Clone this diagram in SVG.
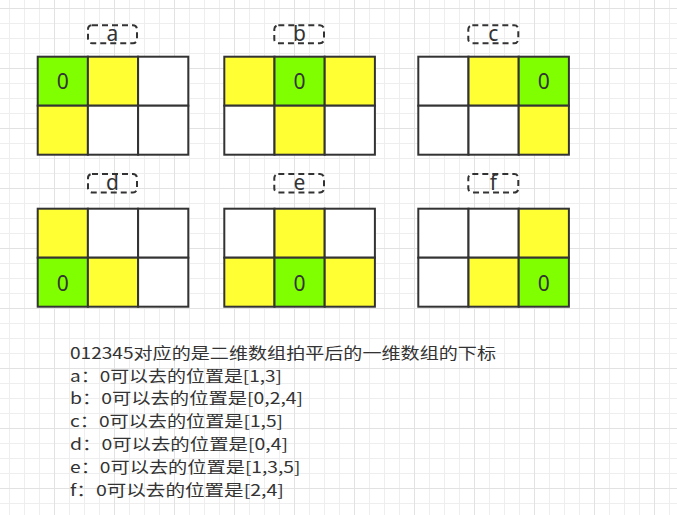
<svg xmlns="http://www.w3.org/2000/svg" width="677" height="515" viewBox="0 0 677 515">
<style>
.cell{stroke:#333333;stroke-width:2}
.w{fill:#ffffff}
.y{fill:#ffff33}
.g{fill:#80ff00}
.lbl{fill:none;stroke:#333333;stroke-width:2;stroke-dasharray:6 4}
.t{font-family:"Noto Sans","Noto Sans CJK SC",sans-serif;fill:#333333;text-anchor:middle}
.big{font-size:21px}
.line{font-family:"Noto Sans CJK SC",sans-serif;font-size:15.6px;fill:#333333}
</style>
<defs>
<pattern id="grid" patternUnits="userSpaceOnUse" x="0" y="0" width="60" height="60">
<rect width="60" height="60" fill="#ffffff"/>
<path d="M9.5 0V60M24.5 0V60M39.5 0V60M0 23.5H60M0 38.5H60M0 53.5H60" stroke="#eeeeee" stroke-width="1" fill="none"/>
<path d="M54.5 0V60M0 8.5H60" stroke="#e2e2e2" stroke-width="1" fill="none"/>
</pattern>
</defs>
<rect width="677" height="515" fill="url(#grid)"/>

<g id="node-a">
<rect class="lbl" x="88" y="25.3" width="49" height="18" rx="4"/>
<text class="t big" x="112.5" y="41">a</text>
<rect class="cell g" x="37.7" y="56.7" width="50.2" height="49"/>
<rect class="cell y" x="87.9" y="56.7" width="50.2" height="49"/>
<rect class="cell w" x="138.1" y="56.7" width="50.2" height="49"/>
<rect class="cell y" x="37.7" y="105.7" width="50.2" height="49"/>
<rect class="cell w" x="87.9" y="105.7" width="50.2" height="49"/>
<rect class="cell w" x="138.1" y="105.7" width="50.2" height="49"/>
<text class="t big" x="62.8" y="88.5">0</text>
</g>

<g id="node-b">
<rect class="lbl" x="274.3" y="25.3" width="49.7" height="18" rx="4"/>
<text class="t big" x="299.5" y="41">b</text>
<rect class="cell y" x="224.3" y="56.7" width="50.2" height="49"/>
<rect class="cell g" x="274.5" y="56.7" width="50.2" height="49"/>
<rect class="cell y" x="324.7" y="56.7" width="50.2" height="49"/>
<rect class="cell w" x="224.3" y="105.7" width="50.2" height="49"/>
<rect class="cell y" x="274.5" y="105.7" width="50.2" height="49"/>
<rect class="cell w" x="324.7" y="105.7" width="50.2" height="49"/>
<text class="t big" x="299.6" y="88.5">0</text>
</g>

<g id="node-c">
<rect class="lbl" x="468.3" y="25.3" width="50" height="18" rx="4"/>
<text class="t big" x="493.3" y="41">c</text>
<rect class="cell w" x="418.3" y="56.7" width="50.2" height="49"/>
<rect class="cell y" x="468.5" y="56.7" width="50.2" height="49"/>
<rect class="cell g" x="518.7" y="56.7" width="50.2" height="49"/>
<rect class="cell w" x="418.3" y="105.7" width="50.2" height="49"/>
<rect class="cell w" x="468.5" y="105.7" width="50.2" height="49"/>
<rect class="cell y" x="518.7" y="105.7" width="50.2" height="49"/>
<text class="t big" x="543.8" y="88.5">0</text>
</g>

<g id="node-d">
<rect class="lbl" x="88" y="174" width="49" height="18.5" rx="4"/>
<text class="t big" x="112.5" y="190">d</text>
<rect class="cell y" x="37.7" y="208.7" width="50.2" height="49"/>
<rect class="cell w" x="87.9" y="208.7" width="50.2" height="49"/>
<rect class="cell w" x="138.1" y="208.7" width="50.2" height="49"/>
<rect class="cell g" x="37.7" y="257.7" width="50.2" height="49"/>
<rect class="cell y" x="87.9" y="257.7" width="50.2" height="49"/>
<rect class="cell w" x="138.1" y="257.7" width="50.2" height="49"/>
<text class="t big" x="62.8" y="290.5">0</text>
</g>

<g id="node-e">
<rect class="lbl" x="274.3" y="174" width="49.7" height="18.5" rx="4"/>
<text class="t big" x="299.5" y="190">e</text>
<rect class="cell w" x="224.3" y="208.7" width="50.2" height="49"/>
<rect class="cell y" x="274.5" y="208.7" width="50.2" height="49"/>
<rect class="cell w" x="324.7" y="208.7" width="50.2" height="49"/>
<rect class="cell y" x="224.3" y="257.7" width="50.2" height="49"/>
<rect class="cell g" x="274.5" y="257.7" width="50.2" height="49"/>
<rect class="cell y" x="324.7" y="257.7" width="50.2" height="49"/>
<text class="t big" x="299.6" y="290.5">0</text>
</g>

<g id="node-f">
<rect class="lbl" x="468.3" y="174" width="50" height="18.5" rx="4"/>
<text class="t big" x="493.3" y="190">f</text>
<rect class="cell w" x="418.3" y="208.7" width="50.2" height="49"/>
<rect class="cell w" x="468.5" y="208.7" width="50.2" height="49"/>
<rect class="cell y" x="518.7" y="208.7" width="50.2" height="49"/>
<rect class="cell w" x="418.3" y="257.7" width="50.2" height="49"/>
<rect class="cell y" x="468.5" y="257.7" width="50.2" height="49"/>
<rect class="cell g" x="518.7" y="257.7" width="50.2" height="49"/>
<text class="t big" x="543.8" y="290.5">0</text>
</g>

<g id="connectors"></g>

<g id="node-notes">
<text class="line" x="70" y="358.8" textLength="426" lengthAdjust="spacingAndGlyphs">012345对应的是二维数组拍平后的一维数组的下标</text>
<text class="line" x="70" y="381.6" textLength="212" lengthAdjust="spacingAndGlyphs">a：0可以去的位置是[1,3]</text>
<text class="line" x="70" y="404.4" textLength="233" lengthAdjust="spacingAndGlyphs">b：0可以去的位置是[0,2,4]</text>
<text class="line" x="70" y="427.2" textLength="213" lengthAdjust="spacingAndGlyphs">c：0可以去的位置是[1,5]</text>
<text class="line" x="70" y="450" textLength="218" lengthAdjust="spacingAndGlyphs">d：0可以去的位置是[0,4]</text>
<text class="line" x="70" y="472.8" textLength="230.5" lengthAdjust="spacingAndGlyphs">e：0可以去的位置是[1,3,5]</text>
<text class="line" x="70" y="495.6" textLength="214" lengthAdjust="spacingAndGlyphs">f：0可以去的位置是[2,4]</text>
</g>
</svg>
